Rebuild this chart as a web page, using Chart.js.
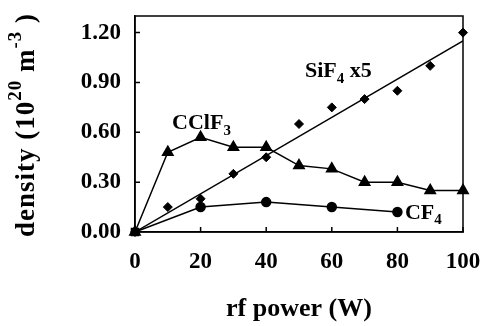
<!DOCTYPE html>
<html>
<head>
<meta charset="utf-8">
<script src="https://cdn.jsdelivr.net/npm/chart.js@4.4.1/dist/chart.umd.min.js"></script>
<style>
  html, body { margin: 0; padding: 0; background: #fff; }
  #wrap { width: 484px; height: 326px; }
</style>
</head>
<body>
<div id="wrap"><canvas id="c" width="484" height="326"></canvas></div>
<script>
// rf power settings (W)
const powerW = [0, 10, 20, 30, 40, 50, 60, 70, 80, 90, 100];
const cf4PowerW = [0, 20, 40, 60, 80];
const sif4FitPowerW = [0, 100];

// densities (10^20 m^-3)
const cclf3Density = [0, 0.48, 0.57, 0.51, 0.51, 0.40, 0.38, 0.30, 0.30, 0.25, 0.25];
const cf4Density = [0, 0.15, 0.18, 0.15, 0.12];
const sif4x5Density = [0, 0.15, 0.20, 0.35, 0.45, 0.65, 0.75, 0.80, 0.85, 1.00, 1.20];
const sif4x5Fit = [0, 1.15];

// axis ticks
const xTickValues = [0, 20, 40, 60, 80, 100];
const yTickValues = [0.00, 0.30, 0.60, 0.90, 1.20];

const SERIF = '"Liberation Serif", "DejaVu Serif", serif';

const pts = (xs, ys) => xs.map((x, i) => ({ x: x, y: ys[i] }));

// text labels with subscripts / superscripts, drawn at data positions
const seriesLabels = [
  { x: 11.3, y: 0.655, parts: [['CClF', 0], ['3', 1]] },
  { x: 51.8, y: 0.965, parts: [['SiF', 0], ['4', 1], [' x5', 0]] },
  { x: 82.3, y: 0.115, parts: [['CF', 0], ['4', 1]] }
];

function drawParts(ctx, parts, x, y, size) {
  let cx = x;
  for (const [txt, kind] of parts) {
    const s = kind === 0 ? size : Math.round(size * 0.7);
    ctx.font = 'bold ' + s + 'px ' + SERIF;
    const dy = kind === 1 ? size * 0.35 : (kind === 2 ? -size * 0.42 : 0);
    ctx.fillText(txt, cx, y + dy);
    cx += ctx.measureText(txt).width;
  }
  return cx - x;
}

function partsWidth(ctx, parts, size) {
  let w = 0;
  for (const [txt, kind] of parts) {
    const s = kind === 0 ? size : Math.round(size * 0.7);
    ctx.font = 'bold ' + s + 'px ' + SERIF;
    w += ctx.measureText(txt).width;
  }
  return w;
}

const framePlugin = {
  id: 'frameAndText',
  afterDraw(chart) {
    const ctx = chart.ctx;
    const a = chart.chartArea;
    const xs = chart.scales.x, ys = chart.scales.y;
    ctx.save();
    ctx.strokeStyle = '#000';
    ctx.lineWidth = 1.5;
    ctx.strokeRect(a.left, a.top, a.right - a.left, a.bottom - a.top);
    // inward tick marks
    ctx.beginPath();
    for (const v of xTickValues) {
      const px = xs.getPixelForValue(v);
      ctx.moveTo(px, a.bottom);
      ctx.lineTo(px, a.bottom - 5);
    }
    for (const v of yTickValues) {
      const py = ys.getPixelForValue(v);
      ctx.moveTo(a.left, py);
      ctx.lineTo(a.left + 5, py);
    }
    ctx.stroke();

    // series labels
    ctx.fillStyle = '#000';
    ctx.textBaseline = 'middle';
    ctx.textAlign = 'left';
    for (const lab of seriesLabels) {
      drawParts(ctx, lab.parts, xs.getPixelForValue(lab.x), ys.getPixelForValue(lab.y), 22);
    }

    // rotated y-axis title, slightly letter-spaced
    ctx.letterSpacing = '1px';
    const yParts = [['density (10', 0], ['20', 2], [' m', 0], ['-3', 2], [' )', 0]];
    const w = partsWidth(ctx, yParts, 27);
    ctx.translate(27, (a.top + a.bottom) / 2 + 1);
    ctx.rotate(-Math.PI / 2);
    drawParts(ctx, yParts, -w / 2, 0, 27);
    ctx.restore();
  }
};

const tickFont = { family: SERIF, size: 23, weight: 'bold' };

function fixX(s) {
  s.height = 94;
  s.paddingLeft = 0; s.paddingRight = 0;
}
function fixY(s) {
  s.width = 135;
  s.paddingTop = 0; s.paddingBottom = 0;
}

new Chart(document.getElementById('c'), {
  type: 'scatter',
  data: {
    datasets: [
      {
        label: 'CClF3',
        data: pts(powerW, cclf3Density),
        showLine: true,
        clip: false,
        borderColor: '#000',
        backgroundColor: '#000',
        borderWidth: 1.5,
        pointStyle: 'triangle',
        pointRadius: 6,
        pointHoverRadius: 6
      },
      {
        label: 'CF4',
        data: pts(cf4PowerW, cf4Density),
        showLine: true,
        clip: false,
        borderColor: '#000',
        backgroundColor: '#000',
        borderWidth: 1.5,
        pointStyle: cf4PowerW.map((x, i) => i === 0 ? 'rect' : 'circle'),
        pointRadius: cf4PowerW.map((x, i) => i === 0 ? 5 : 4.5),
        pointHoverRadius: 4.5
      },
      {
        label: 'SiF4 x5',
        data: pts(powerW, sif4x5Density),
        showLine: false,
        clip: false,
        borderColor: '#000',
        backgroundColor: '#000',
        pointStyle: 'rectRot',
        pointRadius: 4.5,
        pointHoverRadius: 4.5
      },
      {
        label: 'SiF4 x5 fit',
        data: pts(sif4FitPowerW, sif4x5Fit),
        showLine: true,
        borderColor: '#000',
        borderWidth: 1.5,
        pointRadius: 0
      }
    ]
  },
  options: {
    responsive: false,
    animation: false,
    events: [],
    layout: { padding: { top: 16, right: 21, left: 0, bottom: 0 } },
    plugins: { legend: { display: false }, tooltip: { enabled: false } },
    scales: {
      x: {
        type: 'linear',
        min: 0, max: 100,
        afterBuildTicks: s => { s.ticks = xTickValues.map(v => ({ value: v })); },
        afterFit: fixX,
        grid: { display: false, drawTicks: false },
        border: { display: true, color: '#000', width: 1.5 },
        ticks: { color: '#000', font: tickFont, padding: 16, maxRotation: 0 },
        title: {
          display: true,
          text: 'rf power (W)',
          color: '#000',
          font: { family: SERIF, size: 26, weight: 'bold' },
          padding: { top: 0, bottom: 1 }
        }
      },
      y: {
        type: 'linear',
        min: 0, max: 1.3,
        afterBuildTicks: s => { s.ticks = yTickValues.map(v => ({ value: v })); },
        afterFit: fixY,
        grid: { display: false, drawTicks: false },
        border: { display: true, color: '#000', width: 1.5 },
        ticks: { color: '#000', font: tickFont, padding: 14, callback: v => v.toFixed(2) }
      }
    }
  },
  plugins: [framePlugin]
});
</script>
</body>
</html>
